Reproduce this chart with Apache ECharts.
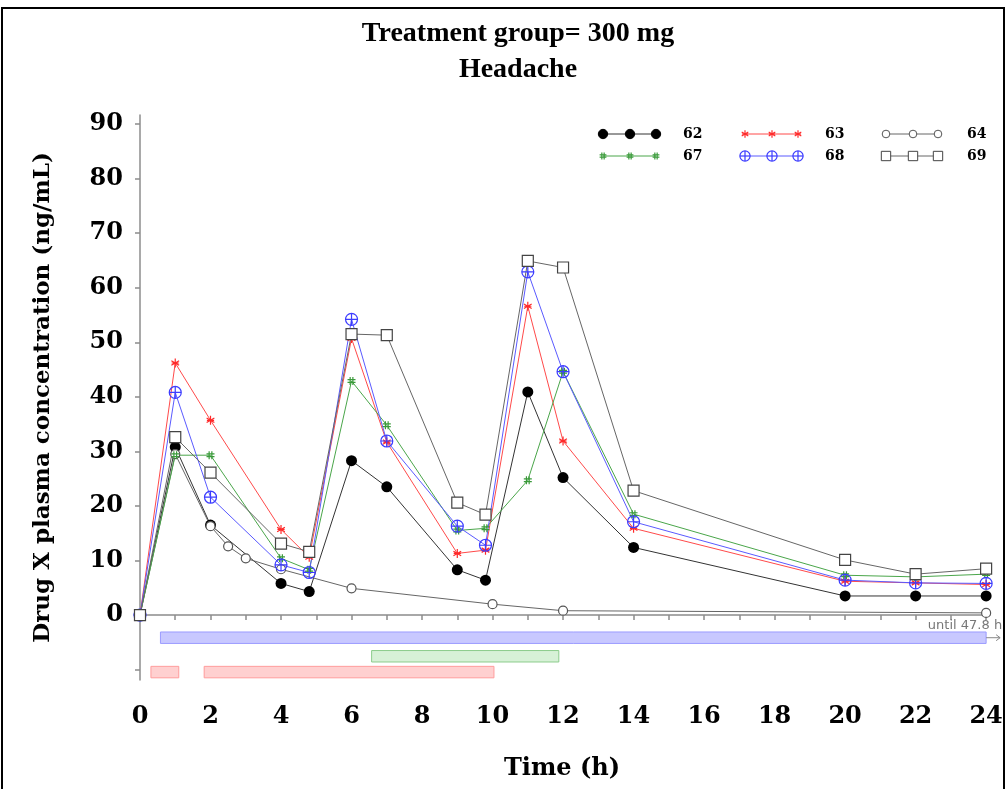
<!DOCTYPE html>
<html><head><meta charset="utf-8">
<script src="https://cdn.jsdelivr.net/npm/echarts@6/dist/echarts.min.js"></script>
<style>html,body{margin:0;padding:0;background:#fff;}#c{width:1008px;height:789px;}</style>
</head><body><div id="c"></div>
<script>
// ---------- data ----------
const titleLines = ['Treatment group= 300 mg', 'Headache'];
const xAxisName = 'Time (h)';
const yAxisName = 'Drug X plasma concentration (ng/mL)';
const subjects = ['62', '63', '64', '67', '68', '69'];
const times = [0, 1, 2, 4, 4.8, 6, 7, 9, 9.8, 11, 12, 14, 20, 22, 24];
const conc62 = [0, 30.8, 16.5, 5.8, 4.3, 28.3, 23.5, 8.3, 6.4, 40.9, 25.2, 12.4, 3.5, 3.5, 3.5];
const conc63 = [0, 46.2, 35.7, 15.7, 10.6, 50.7, 31.7, 11.3, 11.9, 56.6, 31.9, 15.9, 6.2, 5.9, 5.6];
const conc67 = [0, 29.3, 29.3, 10.4, 8.3, 42.9, 34.8, 15.5, 15.9, 24.7, 44.6, 18.5, 7.3, 7.0, 7.5];
const conc68 = [0, 40.8, 21.6, 9.2, 7.8, 54.2, 31.9, 16.3, 12.8, 62.9, 44.6, 17.1, 6.4, 5.9, 5.8];
const conc69 = [0, 32.6, 26.1, 13.1, 11.6, 51.5, 51.3, 20.6, 18.4, 64.9, 63.7, 22.8, 10.1, 7.5, 8.5];
const times64 = [0, 1, 2, 2.5, 3, 4, 6, 10, 12, 24];
const conc64 = [0, 29.5, 16.3, 12.6, 10.4, 8.4, 4.9, 2.0, 0.8, 0.4];
// adverse event (headache) episodes
const aeStart = [0.58, 6.57, 0.31, 1.82];
const aeEnd = [47.8, 11.88, 1.1, 10.04];
const aeRow = [0, 1, 2, 2];
const obsEnd = 24;
// ticks
const xTickValues = [0,1,2,3,4,5,6,7,8,9,10,11,12,13,14,15,16,17,18,19,20,21,22,23,24];
const xTickLabels = [0,2,4,6,8,10,12,14,16,18,20,22,24];
const yTickValues = [-10,0,10,20,30,40,50,60,70,80,90];
const yTickLabels = [0,10,20,30,40,50,60,70,80,90];

// ---------- styles ----------
const SEG_STAR = [[5,0,5,10],[0.7,2.5,9.3,7.5],[0.7,7.5,9.3,2.5],[1,5,9,5]];
const SEG_HASH = [[3.3,0,3.3,10],[6.7,0,6.7,10],[0,3.3,10,3.3],[0,6.7,10,6.7]];
const SEG_PLUS = [[5,0,5,10],[0,5,10,5]];
function segPath(segs, circle){
  let d = circle ? 'M0,5A5,5,0,1,1,10,5A5,5,0,1,1,0,5Z' : 'M0,0M10,10';
  segs.forEach(s => { d += 'M' + s[0] + ',' + s[1] + 'L' + s[2] + ',' + s[3]; });
  return d;
}
const styleMap = {
  '62': {kind:'circle', size:11, fill:'#000', stroke:'#000', line:'#333'},
  '63': {kind:'seg', segs:SEG_STAR, ring:false, size:9, stroke:'#ff2a2a', line:'#ff4a4a'},
  '64': {kind:'circle', size:9, fill:'#fff', stroke:'#555', line:'#666'},
  '67': {kind:'seg', segs:SEG_HASH, ring:false, size:8, stroke:'#3a9a3a', line:'#4aa64a'},
  '68': {kind:'seg', segs:SEG_PLUS, ring:true, size:12, stroke:'#3c3cff', line:'#5a5aff'},
  '69': {kind:'rect', size:11, fill:'#fff', stroke:'#444', line:'#666'}
};
const aeBands = [[-3.1, -5.2], [-6.5, -8.6], [-9.4, -11.5]];
const aeColors = [
  {fill:'rgba(170,170,255,0.65)', stroke:'#9c9cff'},
  {fill:'rgba(175,228,175,0.5)', stroke:'#8ccc8c'},
  {fill:'rgba(255,170,170,0.55)', stroke:'#ff9c9c'}
];
const SERIF = 'DejaVu Serif';
const axisGray = '#8c8c8c';

const seriesData = {
  '62': times.map((t,i)=>[t, conc62[i]]),
  '63': times.map((t,i)=>[t, conc63[i]]),
  '64': times64.map((t,i)=>[t, conc64[i]]),
  '67': times.map((t,i)=>[t, conc67[i]]),
  '68': times.map((t,i)=>[t, conc68[i]]),
  '69': times.map((t,i)=>[t, conc69[i]])
};

function symbolOf(s){
  const st = styleMap[s];
  if (st.kind === 'seg') return 'path://' + segPath(st.segs, st.ring);
  return st.kind;
}

const lineSeries = subjects.map(s => {
  const st = styleMap[s];
  const isSeg = st.kind === 'seg';
  return {
    type:'line', name:s, data:seriesData[s],
    symbol:symbolOf(s), symbolSize:st.size, showAllSymbol:true,
    itemStyle:{color: isSeg ? 'rgba(0,0,0,0)' : st.fill, borderColor:st.stroke,
               borderWidth: (st.kind==='circle' && st.fill==='#000') ? 0 : 1.2},
    lineStyle:{color:st.line, width:1},
    emphasis:{disabled:true}, z:3
  };
});

const aeData = aeStart.map((s,i)=>[s, aeEnd[i], aeRow[i]]);
const aeSeries = {
  type:'custom', name:'AE', data:aeData, clip:false, z:2,
  renderItem:function(params, api){
    const start = api.value(0), end = api.value(1), row = api.value(2);
    const band = aeBands[row];
    const endC = Math.min(end, obsEnd);
    const p1 = api.coord([start, band[0]]);
    const p2 = api.coord([endC, band[1]]);
    const col = aeColors[row];
    const children = [{
      type:'rect',
      shape:{x:p1[0], y:p1[1], width:p2[0]-p1[0], height:p2[1]-p1[1]},
      style:{fill:col.fill, stroke:col.stroke, lineWidth:1}
    }];
    if (end > obsEnd) {
      const midY = (p1[1]+p2[1])/2;
      children.push({
        type:'text',
        style:{text:'until ' + end + ' h', x:p2[0]+16, y:p1[1], align:'right', verticalAlign:'bottom',
               font:'13px "DejaVu Sans"', fill:'#777'}
      });
      children.push({
        type:'polyline',
        shape:{points:[[p2[0], midY], [p2[0]+14, midY]]},
        style:{stroke:'#888', lineWidth:1, fill:null}
      });
      children.push({
        type:'polyline',
        shape:{points:[[p2[0]+10, midY-3], [p2[0]+14, midY], [p2[0]+10, midY+3]]},
        style:{stroke:'#888', lineWidth:1, fill:null}
      });
    }
    return {type:'group', children:children};
  }
};

// legend built as graphics
const legendLayout = {
  rows:[134, 156],
  cols:[{sx:[603,630,656], lx:683}, {sx:[745,772,798], lx:825}, {sx:[886,913,938], lx:967}]
};
function legendSymbol(s, cx, cy){
  const st = styleMap[s];
  const sz = st.size * 0.85;
  if (st.kind === 'circle') {
    return [{type:'circle', shape:{cx:cx, cy:cy, r:sz/2}, style:{fill:st.fill, stroke:st.stroke, lineWidth:1}, z:10}];
  }
  if (st.kind === 'rect') {
    return [{type:'rect', shape:{x:cx-sz/2, y:cy-sz/2, width:sz, height:sz}, style:{fill:st.fill, stroke:st.stroke, lineWidth:1}, z:10}];
  }
  const k = sz/10, ox = cx - sz/2, oy = cy - sz/2;
  const out = st.segs.map(g => ({type:'line', shape:{x1:ox+g[0]*k, y1:oy+g[1]*k, x2:ox+g[2]*k, y2:oy+g[3]*k},
                                 style:{stroke:st.stroke, lineWidth:1.2}, z:10}));
  if (st.ring) out.push({type:'circle', shape:{cx:cx, cy:cy, r:sz/2}, style:{fill:'#fff', stroke:st.stroke, lineWidth:1.2}, z:9.5});
  return out;
}
const legendGraphics = [];
subjects.forEach((s, i) => {
  const row = Math.floor(i/3), colI = i%3;
  const cy = legendLayout.rows[row];
  const c = legendLayout.cols[colI];
  const st = styleMap[s];
  legendGraphics.push({type:'line', shape:{x1:c.sx[0], y1:cy, x2:c.sx[2], y2:cy}, style:{stroke:st.line, lineWidth:1}, z:9});
  c.sx.forEach(x => legendSymbol(s, x, cy).forEach(g => legendGraphics.push(g)));
  legendGraphics.push({type:'text', x:c.lx, y:cy, style:{text:s, font:'bold 14px "DejaVu Serif"', fill:'#000', verticalAlign:'middle'}, z:10});
});

const tickFont = {fontFamily:SERIF, fontWeight:'bold', fontSize:24, color:'#000'};
const nameFont = {fontFamily:SERIF, fontWeight:'bold', fontSize:23, color:'#000'};

const option = {
  animation:false,
  backgroundColor:'#fff',
  title:{
    text:titleLines.join('\n'), left:513, top:11, textAlign:'center',
    textStyle:{fontFamily:'Liberation Serif', fontWeight:'bold', fontSize:28, lineHeight:36, color:'#000'}
  },
  grid:{left:134, right:18, top:115, bottom:109},
  xAxis:{
    type:'value', min:-0.17, max:24.11,
    axisLine:{show:true, lineStyle:{color:axisGray, width:1.5}},
    axisTick:{show:true, customValues:xTickValues, length:5, lineStyle:{color:axisGray, width:1.5}},
    axisLabel:Object.assign({customValues:xTickLabels, margin:25}, tickFont),
    splitLine:{show:false},
    name:xAxisName, nameLocation:'middle', nameGap:77,
    nameTextStyle:Object.assign({}, nameFont, {fontSize:24})
  },
  yAxis:{
    type:'value', min:-11.9, max:91.65,
    axisLine:{show:true, lineStyle:{color:axisGray, width:1.5}},
    axisTick:{show:true, customValues:yTickValues, length:5, lineStyle:{color:axisGray, width:1.5}},
    axisLabel:Object.assign({customValues:yTickLabels, margin:11}, tickFont),
    splitLine:{show:false},
    name:yAxisName, nameLocation:'middle', nameGap:79,
    nameTextStyle:nameFont
  },
  graphic:[
    {type:'rect', shape:{x:2, y:8, width:1002, height:800}, style:{fill:null, stroke:'#000', lineWidth:2}, z:0, silent:true}
  ].concat(legendGraphics),
  series:[aeSeries].concat(lineSeries)
};
const chart = echarts.init(document.getElementById('c'), null, {renderer:'canvas'});
chart.setOption(option);
</script></body></html>
